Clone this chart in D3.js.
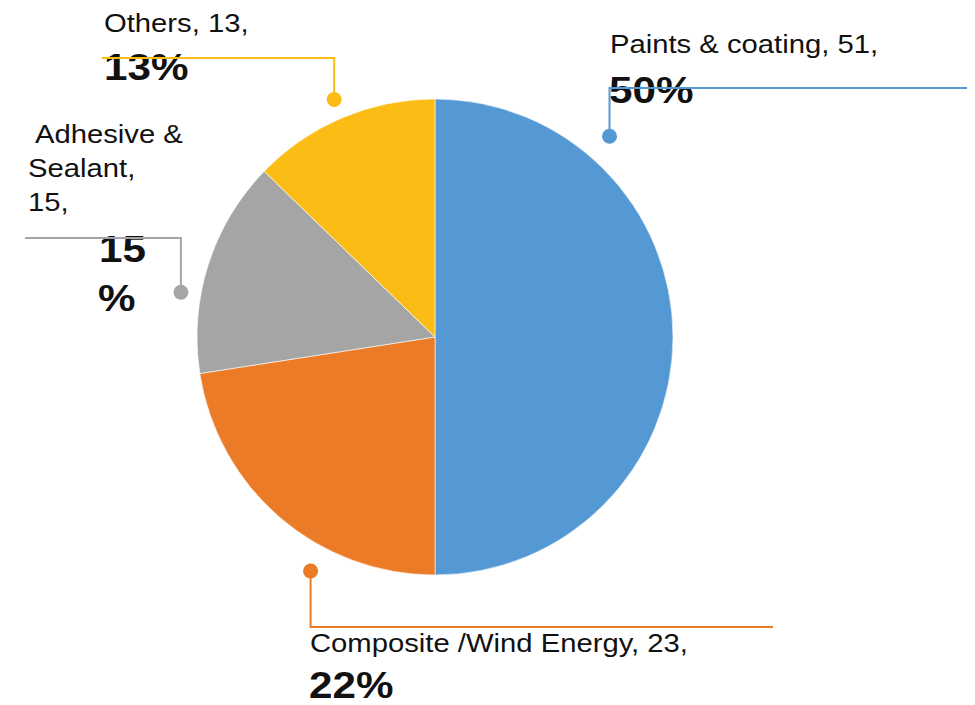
<!DOCTYPE html>
<html>
<head>
<meta charset="utf-8">
<script src="https://cdn.jsdelivr.net/npm/d3@7"></script>
<style>
  html, body { margin: 0; padding: 0; background: #fff; }
  svg { display: block; }
  text { font-family: "Liberation Sans", Arial, sans-serif; fill: #111; }
</style>
</head>
<body>
<svg id="chart" width="975" height="705"></svg>
<script>
// ---- data ----
const categories = ["Paints & coating", "Composite /Wind Energy", "Adhesive & Sealant", "Others"];
const values = [51, 23, 15, 13];
const percentLabels = ["50%", "22%", "15%", "13%"];
const colors = ["#5499d4", "#eb7b26", "#a5a5a5", "#fbbd15"];

// ---- layout (positions only) ----
const cx = 435, cy = 337, radius = 238;
const labelLayout = [
  { dotAngle: 41,  dotR: 266, lineY: 88,  lineX: 967,
    lines: [{t: "Paints & coating, 51,", x: 610, y: 53}],
    pct: [{t: "50%", x: 609, y: 103}] },
  { dotAngle: 208, dotR: 265, lineY: 627, lineX: 773,
    lines: [{t: "Composite /Wind Energy, 23,", x: 310, y: 652}],
    pct: [{t: "22%", x: 309, y: 698}] },
  { dotAngle: 280, dotR: 258, lineY: 238, lineX: 25,
    lines: [{t: "Adhesive &", x: 35, y: 143}, {t: "Sealant,", x: 28, y: 177}, {t: "15,", x: 28, y: 211}],
    pct: [{t: "15", x: 99, y: 262}, {t: "%", x: 98, y: 311}] },
  { dotAngle: 337, dotR: 258, lineY: 58, lineX: 102,
    lines: [{t: "Others, 13,", x: 104, y: 32}],
    pct: [{t: "13%", x: 104, y: 80}] }
];

const svg = d3.select("#chart");
const g = svg.append("g").attr("transform", `translate(${cx},${cy})`);

const pie = d3.pie().sort(null).value(d => d)
  .startAngle(0).endAngle(2 * Math.PI);
const arc = d3.arc().innerRadius(0).outerRadius(radius);
const arcs = pie(values);

g.selectAll("path.slice")
  .data(arcs)
  .join("path")
  .attr("class", "slice")
  .attr("d", arc)
  .attr("fill", (d, i) => colors[i])
  .attr("stroke", "#fff")
  .attr("stroke-width", 0.6);

const labels = svg.append("g");

// texts
labelLayout.forEach((L, i) => {
  L.lines.forEach(l => {
    labels.append("text")
      .attr("transform", `translate(${l.x},${l.y}) scale(1.17,1)`)
      .attr("font-size", 25)
      .text(l.t);
  });
  L.pct.forEach(p => {
    labels.append("text")
      .attr("transform", `translate(${p.x},${p.y}) scale(1.14,1)`)
      .attr("font-size", 37)
      .attr("font-weight", "bold")
      .text(p.t);
  });
});

// leaders
labelLayout.forEach((L, i) => {
  const a = L.dotAngle * Math.PI / 180;
  const dx = cx + Math.sin(a) * L.dotR;
  const dy = cy - Math.cos(a) * L.dotR;
  labels.append("path")
    .attr("d", d3.line()([[dx, dy], [dx, L.lineY], [L.lineX, L.lineY]]))
    .attr("fill", "none")
    .attr("stroke", colors[i])
    .attr("stroke-width", 2);
  labels.append("circle")
    .attr("cx", dx).attr("cy", dy).attr("r", 7.5)
    .attr("fill", colors[i]);
});
</script>
</body>
</html>
